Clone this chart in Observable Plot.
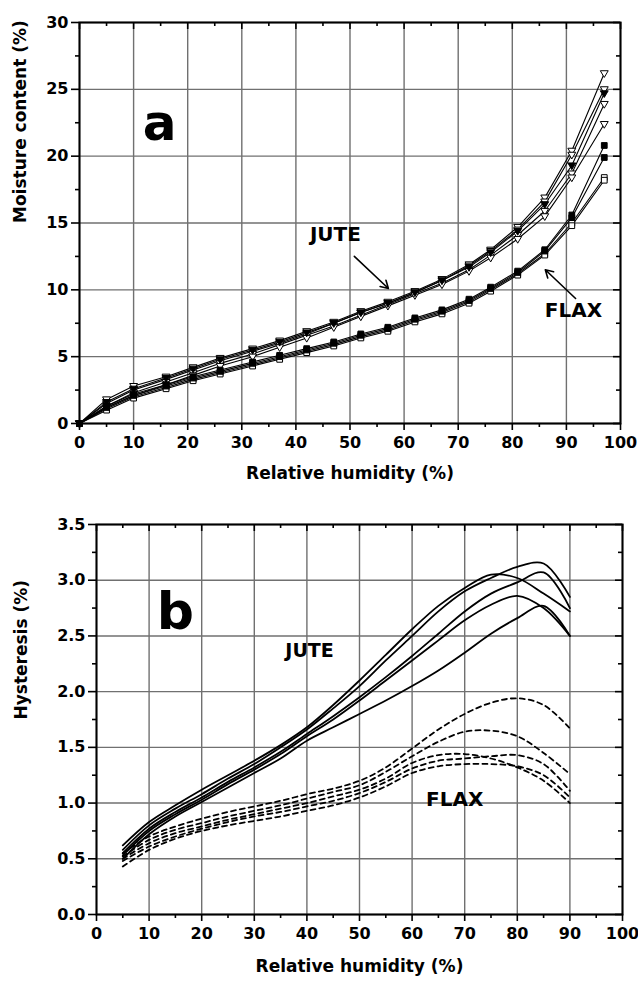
<!DOCTYPE html>
<html><head><meta charset="utf-8">
<script src="https://cdn.jsdelivr.net/npm/d3@7"></script>
<script src="https://cdn.jsdelivr.net/npm/@observablehq/plot@0.6"></script>
<style>body{margin:0;background:#fff;} svg{display:block;}</style>
</head><body><div id="pa"></div><div id="pb"></div>
<script>
// ---------- Panel a: sorption isotherms ----------
const rhA = [0,5,10,16,21,26,32,37,42,47,52,57,62,67,72,76,81,86,91,97];
const juteA1 = [0,1.8,2.8,3.5,4.2,4.9,5.6,6.2,6.9,7.6,8.4,9.1,9.9,10.8,11.9,13.0,14.7,16.9,20.4,26.2];
const juteA2 = [0,1.6,2.6,3.4,4.1,4.8,5.5,6.1,6.8,7.5,8.3,9.0,9.8,10.7,11.7,12.8,14.4,16.4,19.3,24.7];
const juteA3 = [0,1.5,2.5,3.3,4.0,4.7,5.4,6.0,6.7,7.5,8.3,9.0,9.8,10.7,11.8,12.9,14.5,16.6,20.1,25.0];
const juteA4 = [0,1.3,2.3,3.1,3.8,4.5,5.2,5.9,6.6,7.3,8.1,8.9,9.7,10.5,11.5,12.6,14.1,15.9,18.7,23.9];
const juteA5 = [0,1.2,2.1,2.9,3.6,4.3,5.0,5.7,6.4,7.2,8.0,8.8,9.6,10.4,11.4,12.4,13.8,15.5,18.4,22.4];
const flaxA1 = [0,1.3,2.2,2.9,3.5,4.0,4.6,5.1,5.6,6.1,6.7,7.2,7.9,8.5,9.3,10.2,11.4,13.0,15.6,20.8];
const flaxA2 = [0,1.2,2.1,2.8,3.4,3.9,4.5,5.0,5.5,6.0,6.6,7.1,7.8,8.4,9.2,10.1,11.3,12.9,15.4,19.9];
const flaxA3 = [0,1.1,2.0,2.7,3.3,3.8,4.4,4.9,5.4,5.9,6.5,7.0,7.7,8.3,9.1,10.0,11.2,12.7,15.0,18.4];
const flaxA4 = [0,1.0,1.9,2.6,3.2,3.7,4.3,4.8,5.3,5.8,6.4,6.9,7.6,8.2,9.0,9.9,11.1,12.6,14.8,18.2];
const seriesA = [
  {name:"J1", values: juteA1, marker:"triOpen"},
  {name:"J2", values: juteA2, marker:"triFilled"},
  {name:"J3", values: juteA3, marker:"triOpen"},
  {name:"J4", values: juteA4, marker:"triOpen"},
  {name:"J5", values: juteA5, marker:"triOpen"},
  {name:"F1", values: flaxA1, marker:"sqFilled"},
  {name:"F2", values: flaxA2, marker:"sqFilled"},
  {name:"F3", values: flaxA3, marker:"sqOpen"},
  {name:"F4", values: flaxA4, marker:"sqOpen"}
];
const xTicksA = [0,10,20,30,40,50,60,70,80,90,100];
const xMinorA = [5,15,25,35,45,55,65,75,85,95];
const yTicksA = [0,5,10,15,20,25,30];
const yMinorA = [2.5,7.5,12.5,17.5,22.5,27.5];
const labelsA = [
  {x:14.8, y:22.4, t:"a", size:50},
  {x:47.3, y:14.1, t:"JUTE", size:20},
  {x:91.3, y:8.45, t:"FLAX", size:20}
];
const arrowsA = [
  {x1:50.8, y1:12.5, x2:57.1, y2:10.1},
  {x1:91.7, y1:9.35, x2:86.1, y2:11.5}
];

// ---------- Panel b: hysteresis ----------
const rhB = [5,10,15,20,25,30,35,40,45,50,55,60,65,70,75,80,85,90];
const juteB1 = [0.58,0.80,0.95,1.08,1.22,1.35,1.50,1.66,1.85,2.05,2.28,2.50,2.72,2.90,3.02,3.12,3.15,2.85];
const juteB2 = [0.62,0.83,0.98,1.12,1.25,1.38,1.52,1.68,1.88,2.10,2.33,2.56,2.77,2.93,3.05,3.02,2.88,2.72];
const juteB3 = [0.55,0.77,0.92,1.05,1.19,1.32,1.46,1.62,1.78,1.95,2.13,2.32,2.52,2.72,2.88,2.98,3.07,2.75];
const juteB4 = [0.53,0.75,0.90,1.03,1.17,1.30,1.44,1.60,1.75,1.92,2.10,2.28,2.46,2.64,2.78,2.86,2.75,2.50];
const juteB5 = [0.50,0.72,0.88,1.01,1.14,1.27,1.40,1.56,1.68,1.80,1.92,2.05,2.19,2.35,2.52,2.66,2.77,2.50];
const flaxB1 = [0.55,0.70,0.79,0.86,0.92,0.97,1.02,1.08,1.13,1.20,1.32,1.49,1.66,1.80,1.90,1.94,1.88,1.67];
const flaxB2 = [0.52,0.67,0.76,0.82,0.88,0.93,0.98,1.04,1.10,1.16,1.28,1.42,1.55,1.64,1.65,1.60,1.45,1.26];
const flaxB3 = [0.50,0.64,0.73,0.79,0.85,0.90,0.95,1.00,1.06,1.12,1.22,1.36,1.43,1.44,1.40,1.32,1.20,1.00];
const flaxB4 = [0.48,0.61,0.70,0.77,0.83,0.88,0.92,0.97,1.02,1.09,1.19,1.31,1.38,1.40,1.42,1.43,1.35,1.11];
const flaxB5 = [0.43,0.58,0.68,0.75,0.80,0.84,0.88,0.93,0.98,1.05,1.15,1.27,1.33,1.35,1.35,1.33,1.25,1.05];
const seriesB = [
  {name:"J1", values: juteB1, dash:null},
  {name:"J2", values: juteB2, dash:null},
  {name:"J3", values: juteB3, dash:null},
  {name:"J4", values: juteB4, dash:null},
  {name:"J5", values: juteB5, dash:null},
  {name:"F1", values: flaxB1, dash:"5,4"},
  {name:"F2", values: flaxB2, dash:"5,4"},
  {name:"F3", values: flaxB3, dash:"5,4"},
  {name:"F4", values: flaxB4, dash:"5,4"},
  {name:"F5", values: flaxB5, dash:"5,4"}
];
const xTicksB = [0,10,20,30,40,50,60,70,80,90,100];
const xMinorB = [5,15,25,35,45,55,65,75,85,95];
const yTicksB = [0,0.5,1,1.5,2,2.5,3,3.5];
const yMinorB = [0.25,0.75,1.25,1.75,2.25,2.75,3.25];
const labelsB = [
  {x:15.0, y:2.71, t:"b", size:52},
  {x:40.5, y:2.37, t:"JUTE", size:19},
  {x:68.1, y:1.03, t:"FLAX", size:20}
];

// ---------- helpers ----------
const FONT = "'DejaVu Sans', 'Liberation Sans', Arial, sans-serif";
const triDown = {draw(ctx, size) {
  const r = Math.sqrt(size) * 0.62;
  ctx.moveTo(-r, -r * 0.65); ctx.lineTo(r, -r * 0.65); ctx.lineTo(0, r * 1.05); ctx.closePath();
}};
const square = {draw(ctx, size) {
  const r = Math.sqrt(size) * 0.45;
  ctx.rect(-r, -r, 2 * r, 2 * r);
}};

function frameMarks(o) {
  const {xT, xM, yT, yM, innerW, innerH, yFmt} = o;
  return [
    Plot.gridX(xT, {stroke:"#707070", strokeOpacity:1, strokeWidth:1.4}),
    Plot.gridY(yT, {stroke:"#707070", strokeOpacity:1, strokeWidth:1.4}),
    Plot.axisX({ticks:xT, tickSize:7, tickPadding:6, label:null, fontSize:16, fontWeight:"bold", strokeWidth:1.6}),
    Plot.axisX({ticks:xM, tickSize:4, tickFormat:() => "", label:null, strokeWidth:1.6}),
    Plot.axisY({ticks:yT, tickSize:8, tickPadding:3, label:null, fontSize:16, fontWeight:"bold", strokeWidth:1.6, tickFormat:yFmt}),
    Plot.axisY({ticks:yM, tickSize:4, tickFormat:() => "", label:null, strokeWidth:1.6}),
    Plot.tickX(xT, {insetBottom: innerH - 7, strokeWidth:1.6}),
    Plot.tickX(xM, {insetBottom: innerH - 4, strokeWidth:1.6}),
    Plot.tickY(yT, {insetLeft: innerW - 7, strokeWidth:1.6}),
    Plot.tickY(yM, {insetLeft: innerW - 4, strokeWidth:1.6}),
    Plot.frame({stroke:"black", strokeWidth:2})
  ];
}

// ---------- panel a ----------
const dataA = seriesA.flatMap(s => s.values.map((v, i) => ({series:s.name, marker:s.marker, rh:rhA[i], mc:v})));
const A = {w:638, h:500, ml:79, mr:18, mt:22, mb:77};
const plotA = Plot.plot({
  width:A.w, height:A.h, marginLeft:A.ml, marginRight:A.mr, marginTop:A.mt, marginBottom:A.mb,
  style:{fontFamily:FONT, fontWeight:"bold", fontSize:"16px", color:"black", background:"white"},
  x:{domain:[0,100]}, y:{domain:[0,30]},
  marks:[
    ...frameMarks({xT:xTicksA, xM:xMinorA, yT:yTicksA, yM:yMinorA, innerW:A.w-A.ml-A.mr, innerH:A.h-A.mt-A.mb}),
    Plot.line(dataA, {x:"rh", y:"mc", z:"series", stroke:"black", strokeWidth:1.1}),
    Plot.dot(dataA.filter(d => d.marker === "triOpen"), {x:"rh", y:"mc", symbol:triDown, r:3.6, fill:"white", stroke:"black", strokeWidth:1}),
    Plot.dot(dataA.filter(d => d.marker === "triFilled"), {x:"rh", y:"mc", symbol:triDown, r:3.6, fill:"black", stroke:"black", strokeWidth:1}),
    Plot.dot(dataA.filter(d => d.marker === "sqOpen"), {x:"rh", y:"mc", symbol:square, r:3.6, fill:"white", stroke:"black", strokeWidth:1}),
    Plot.dot(dataA.filter(d => d.marker === "sqFilled"), {x:"rh", y:"mc", symbol:square, r:3.6, fill:"black", stroke:"black", strokeWidth:1}),
    Plot.text(labelsA, {x:"x", y:"y", text:"t", fontSize:d => d.size, fontWeight:"bold", fill:"black"}),
    Plot.arrow(arrowsA, {x1:"x1", y1:"y1", x2:"x2", y2:"y2", stroke:"black", strokeWidth:1.6, headLength:8}),
    Plot.text(["Relative humidity (%)"], {frameAnchor:"bottom", dy:55, fontSize:17, fontWeight:"bold"}),
    Plot.text(["Moisture content (%)"], {frameAnchor:"left", dx:-59, rotate:-90, fontSize:17, fontWeight:"bold"})
  ]
});
document.getElementById("pa").appendChild(plotA);

// ---------- panel b ----------
const dataB = seriesB.flatMap(s => s.values.map((v, i) => ({series:s.name, dash:s.dash, rh:rhB[i], h:v})));
const B = {w:638, h:481, ml:96, mr:16, mt:24, mb:67};
const plotB = Plot.plot({
  width:B.w, height:B.h, marginLeft:B.ml, marginRight:B.mr, marginTop:B.mt, marginBottom:B.mb,
  style:{fontFamily:FONT, fontWeight:"bold", fontSize:"16px", color:"black", background:"white"},
  x:{domain:[0,100]}, y:{domain:[0,3.5]},
  marks:[
    ...frameMarks({xT:xTicksB, xM:xMinorB, yT:yTicksB, yM:yMinorB, innerW:B.w-B.ml-B.mr, innerH:B.h-B.mt-B.mb, yFmt:d3.format(".1f")}),
    Plot.line(dataB.filter(d => !d.dash), {x:"rh", y:"h", z:"series", stroke:"black", strokeWidth:1.8, curve:"catmull-rom"}),
    Plot.line(dataB.filter(d => d.dash), {x:"rh", y:"h", z:"series", stroke:"black", strokeWidth:1.8, strokeDasharray:"5,4", curve:"catmull-rom"}),
    Plot.text(labelsB, {x:"x", y:"y", text:"t", fontSize:d => d.size, fontWeight:"bold", fill:"black"}),
    Plot.text(["Relative humidity (%)"], {frameAnchor:"bottom", dy:57, fontSize:17, fontWeight:"bold"}),
    Plot.text(["Hysteresis (%)"], {frameAnchor:"left", dx:-75, rotate:-90, fontSize:17, fontWeight:"bold"})
  ]
});
document.getElementById("pb").appendChild(plotB);
</script>
</body></html>
